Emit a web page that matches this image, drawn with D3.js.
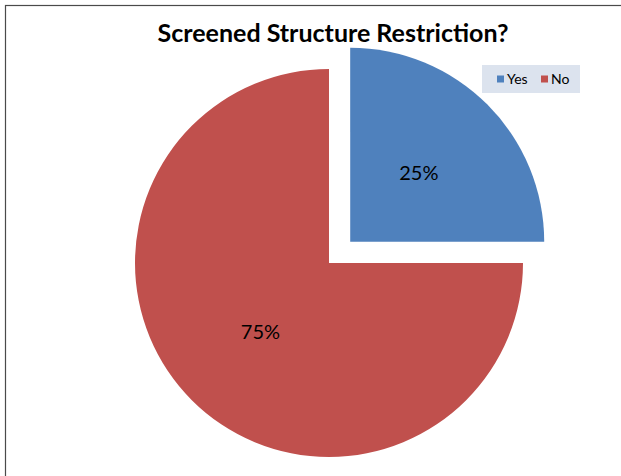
<!DOCTYPE html>
<html>
<head>
<meta charset="utf-8">
<script src="https://cdn.jsdelivr.net/npm/d3@7"></script>
<style>
  html, body { margin: 0; padding: 0; background: #fff; }
  svg { display: block; }
</style>
</head>
<body>
<svg id="chart" width="621" height="476"></svg>
<script>
// Survey answers
const categories = ["Yes", "No"];
const values = [25, 75];
const colors = ["#4F81BD", "#C0504D"];
const title = "Screened Structure Restriction?";

const svg = d3.select("#chart");
const W = 621, H = 476;
const font = "Lato, 'Open Sans', sans-serif";

// Chart frame (extends past right and bottom edges)
svg.append("rect")
  .attr("x", 5.5).attr("y", 5.5)
  .attr("width", W).attr("height", H)
  .attr("fill", "#fff")
  .attr("stroke", "#4a4a4a").attr("stroke-width", 1.2);

// Title
svg.append("text")
  .attr("x", 333).attr("y", 42)
  .attr("text-anchor", "middle")
  .attr("font-family", font)
  .attr("font-weight", "bold")
  .attr("font-size", 25)
  .attr("fill", "#000")
  .text(title);

// Pie
const cx = 329, cy = 263, r = 194;
const explode = 30;
const total = d3.sum(values);
const pie = d3.pie().sort(null).value(d => d)(values);
const arc = d3.arc().innerRadius(0).outerRadius(r);
const color = d3.scaleOrdinal().domain(categories).range(colors);
const pct = d3.format(".0%");

const g = svg.append("g").attr("transform", `translate(${cx},${cy})`);
const slices = g.selectAll("g.slice").data(pie).enter().append("g")
  .attr("class", "slice")
  .attr("transform", (d, i) => {
    if (i !== 0) return null;
    const a = (d.startAngle + d.endAngle) / 2;
    return `translate(${explode * Math.sin(a)},${-explode * Math.cos(a)})`;
  });

slices.append("path")
  .attr("d", arc)
  .attr("fill", (d, i) => color(categories[i]));

slices.append("text")
  .attr("transform", d => `translate(${arc.centroid(d)})`)
  .attr("text-anchor", "middle")
  .attr("dy", "0.35em")
  .attr("font-family", font)
  .attr("font-size", 20)
  .attr("fill", "#000")
  .text(d => pct(d.data / total));

// Legend
const lg = svg.append("g").attr("transform", "translate(482,65)");
lg.append("rect").attr("width", 98).attr("height", 28).attr("fill", "#DCE3EE");
const items = lg.selectAll("g.item").data(categories).enter().append("g")
  .attr("class", "item")
  .attr("transform", (d, i) => `translate(${i === 0 ? 15 : 59},14)`);
items.append("rect")
  .attr("x", 0).attr("y", -3.5).attr("width", 7).attr("height", 7)
  .attr("fill", d => color(d));
items.append("text")
  .attr("x", 10).attr("y", 0).attr("dy", "0.35em")
  .attr("font-family", font).attr("font-size", 14)
  .attr("fill", "#000")
  .text(d => d);
</script>
</body>
</html>
